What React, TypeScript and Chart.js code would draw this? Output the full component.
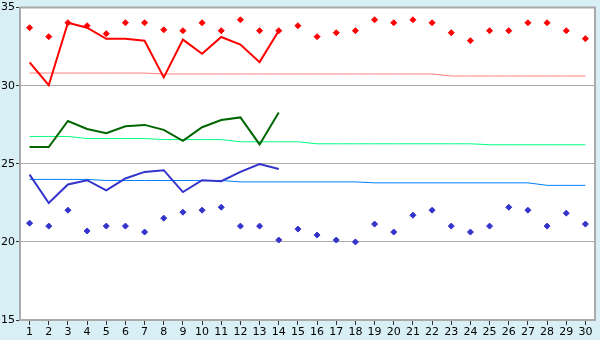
import React, { useEffect, useRef } from 'react';
import { Chart, registerables } from 'chart.js';
Chart.register(...registerables);

const days = ['1','2','3','4','5','6','7','8','9','10','11','12','13','14','15','16','17','18','19','20','21','22','23','24','25','26','27','28','29','30'];

const redHigh = [33.71,33.14,34.03,33.84,33.33,34.03,34.03,33.58,33.52,34.03,33.52,34.22,33.52,33.52,33.84,33.14,33.39,33.52,34.22,34.03,34.22,34.03,33.39,32.88,33.52,33.52,34.03,34.03,33.52,33.01];
const redLine = [31.49,30.03,34.03,33.71,33.0,33.0,32.88,30.53,32.95,32.04,33.12,32.63,31.51,33.52,null,null,null,null,null,null,null,null,null,null,null,null,null,null,null,null];
const redTrend = [30.81,30.81,30.81,30.81,30.81,30.81,30.81,30.75,30.75,30.75,30.75,30.75,30.75,30.75,30.75,30.75,30.75,30.75,30.75,30.75,30.75,30.75,30.62,30.62,30.62,30.62,30.62,30.62,30.62,30.62];

const greenLine = [26.07,26.07,27.74,27.23,26.96,27.4,27.49,27.17,26.47,27.34,27.8,27.97,26.24,28.29,null,null,null,null,null,null,null,null,null,null,null,null,null,null,null,null];
const greenTrend = [26.75,26.75,26.75,26.62,26.62,26.62,26.62,26.55,26.55,26.55,26.55,26.41,26.41,26.41,26.41,26.28,26.28,26.28,26.28,26.28,26.28,26.28,26.28,26.28,26.22,26.22,26.22,26.22,26.22,26.22];

const blueLine = [24.31,22.49,23.68,23.95,23.3,24.06,24.48,24.59,23.19,23.95,23.89,24.48,24.99,24.67,null,null,null,null,null,null,null,null,null,null,null,null,null,null,null,null];
const blueTrend = [24.0,24.0,24.0,24.0,23.93,23.93,23.93,23.93,23.93,23.93,23.93,23.84,23.84,23.84,23.84,23.84,23.84,23.84,23.78,23.78,23.78,23.78,23.78,23.78,23.78,23.78,23.78,23.62,23.62,23.62];
const blueLow = [21.2,21.01,22.03,20.7,21.01,21.01,20.63,21.52,21.9,22.03,22.22,21.01,21.01,20.12,20.82,20.44,20.12,20.0,21.14,20.63,21.71,22.03,21.01,20.63,21.01,22.22,22.03,21.01,21.84,21.14];

const yTicks = [15, 20, 25, 30, 35];

const GRAY = '#aaaaaa';
const BG = '#d9eff6';

const bgPlugin = {
  id: 'bgPlugin',
  beforeDraw(chart: any) {
    const { ctx, chartArea: a, width, height } = chart;
    ctx.save();
    ctx.fillStyle = BG;
    ctx.fillRect(0, 0, width, height);
    ctx.fillStyle = '#ffffff';
    ctx.fillRect(a.left, a.top, a.right - a.left, a.bottom - a.top);
    ctx.restore();
  },
  beforeDatasetsDraw(chart: any) {
    const { ctx, chartArea: a } = chart;
    ctx.save();
    ctx.strokeStyle = GRAY;
    ctx.lineWidth = 2;
    ctx.beginPath();
    ctx.moveTo(a.left, a.top);
    ctx.lineTo(a.right, a.top);
    ctx.lineTo(a.right, a.bottom);
    ctx.stroke();
    ctx.restore();
  },
};

function lineDs(data: any[], color: string, width: number, order: number) {
  return {
    data,
    borderColor: color,
    backgroundColor: color,
    borderWidth: width,
    pointRadius: 0,
    tension: 0,
    fill: false,
    spanGaps: false,
    order,
  };
}

function pointDs(data: any[], color: string, order: number) {
  return {
    data,
    borderColor: color,
    backgroundColor: color,
    showLine: false,
    pointStyle: 'rectRot',
    pointRadius: 3,
    pointBorderWidth: 1,
    order,
  };
}

export default function App() {
  const ref = useRef<HTMLCanvasElement>(null);
  useEffect(() => {
    const chart = new Chart(ref.current as HTMLCanvasElement, {
      type: 'line',
      data: {
        labels: days,
        datasets: [
          lineDs(redTrend, '#ff8080', 1, 6),
          lineDs(greenTrend, '#00ff80', 1, 6),
          lineDs(blueTrend, '#0080ff', 1, 6),
          lineDs(redLine, '#ff0000', 2, 2),
          lineDs(greenLine, '#006600', 2, 2),
          lineDs(blueLine, '#3333cc', 2, 2),
          pointDs(redHigh, '#ff0000', 1),
          pointDs(blueLow, '#3333cc', 1),
        ] as any,
      },
      options: {
        animation: false,
        responsive: false,
        events: [],
        layout: { padding: { top: 5, right: 4, left: 0, bottom: 0 } },
        plugins: { legend: { display: false }, tooltip: { enabled: false } },
        scales: {
          x: {
            offset: true,
            grid: { offset: false, drawOnChartArea: false, drawTicks: true, tickLength: 5, color: '#333333' },
            border: { color: GRAY, width: 2 },
            ticks: { color: '#000', font: { family: 'DejaVu Sans', size: 11 }, padding: 1, maxRotation: 0, autoSkip: false },
            afterFit: (s: any) => { s.height = 20; },
          },
          y: {
            min: 15,
            max: 35,
            afterBuildTicks: (s: any) => { s.ticks = yTicks.map((v) => ({ value: v })); },
            grid: { color: GRAY, tickColor: '#333333', drawTicks: true, tickLength: 4, lineWidth: 1 },
            border: { color: GRAY, width: 2 },
            ticks: { color: '#000', font: { family: 'DejaVu Sans', size: 11 }, padding: 1 },
            afterFit: (s: any) => { s.width = 20; },
          },
        },
      },
      plugins: [bgPlugin],
    });
    return () => chart.destroy();
  }, []);
  return (
    <canvas
      ref={ref}
      width={600}
      height={340}
      style={{ position: 'absolute', left: 0, top: 0, width: 600, height: 340, display: 'block' }}
    />
  );
}
